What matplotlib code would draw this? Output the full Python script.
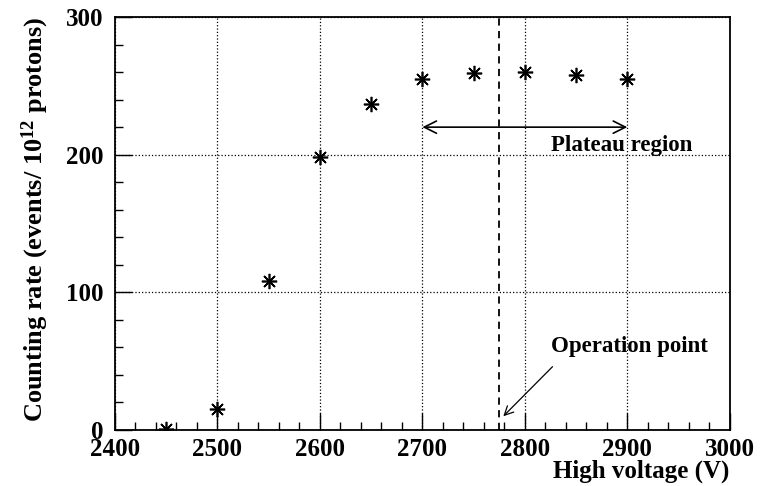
import numpy as np
import matplotlib
matplotlib.use('Agg')
import matplotlib.pyplot as plt
from matplotlib.ticker import MultipleLocator

# data
voltage = [2450, 2500, 2550, 2600, 2650, 2700, 2750, 2800, 2850, 2900]
rate = [0.5, 15, 108, 198, 237, 255, 259, 260, 258, 255]
op_point = 2775
plateau = [2700, 2900]
plateau_y = 220

plt.rcParams['font.family'] = ['Liberation Serif', 'DejaVu Serif']
plt.rcParams['font.weight'] = 'bold'
plt.rcParams['mathtext.fontset'] = 'custom'
plt.rcParams['mathtext.rm'] = 'Liberation Serif:bold'
plt.rcParams['mathtext.it'] = 'Liberation Serif:bold'
plt.rcParams['mathtext.bf'] = 'Liberation Serif:bold'

fig = plt.figure(figsize=(7.69, 4.86), dpi=100)
ax = fig.add_axes([0.1495, 0.1152, 0.7995, 0.8498])

ax.plot(voltage, rate, linestyle='none', marker=(8, 2, 0), markersize=11,
        color='black', markeredgewidth=1.2)

ax.set_xlim(2400, 3000)
ax.set_ylim(0, 300)
ax.xaxis.set_major_locator(MultipleLocator(100))
ax.xaxis.set_minor_locator(MultipleLocator(20))
ax.yaxis.set_major_locator(MultipleLocator(100))
ax.yaxis.set_minor_locator(MultipleLocator(20))
ax.tick_params(which='major', direction='in', length=12, width=1, labelsize=18)
ax.tick_params(which='minor', direction='in', length=6, width=1)
ax.tick_params(axis='x', pad=6)
ax.tick_params(axis='y', pad=8)
ax.grid(True, which='major', linestyle=':', color='black', linewidth=0.9)

for s in ax.spines.values():
    s.set_linewidth(1.3)

ax.axvline(op_point, color='black', linestyle=(0, (4, 3)), linewidth=1.3)

ax.annotate('', xy=(plateau[0], plateau_y), xytext=(plateau[1], plateau_y),
            arrowprops=dict(arrowstyle='<->', color='black', lw=1.2,
                            mutation_scale=22, shrinkA=0, shrinkB=0))
ax.text(2826, 203, 'Plateau region', fontsize=16.5, fontweight='bold', ha='left', va='baseline')

ax.annotate('', xy=(2779, 10), xytext=(2827, 46),
            arrowprops=dict(arrowstyle='->', color='black', lw=0.9,
                            mutation_scale=16, shrinkA=0, shrinkB=0))
ax.text(2826, 57, 'Operation point', fontsize=16.5, fontweight='bold', ha='left', va='baseline')

ax.set_xlabel('High voltage (V)', fontsize=18, fontweight='bold', loc='right', labelpad=-1)
ax.set_ylabel('Counting rate (events/ 10$^{12}$ protons)', fontsize=19, fontweight='bold',
              loc='top', labelpad=11)

fig.savefig('out.png', dpi=100)
